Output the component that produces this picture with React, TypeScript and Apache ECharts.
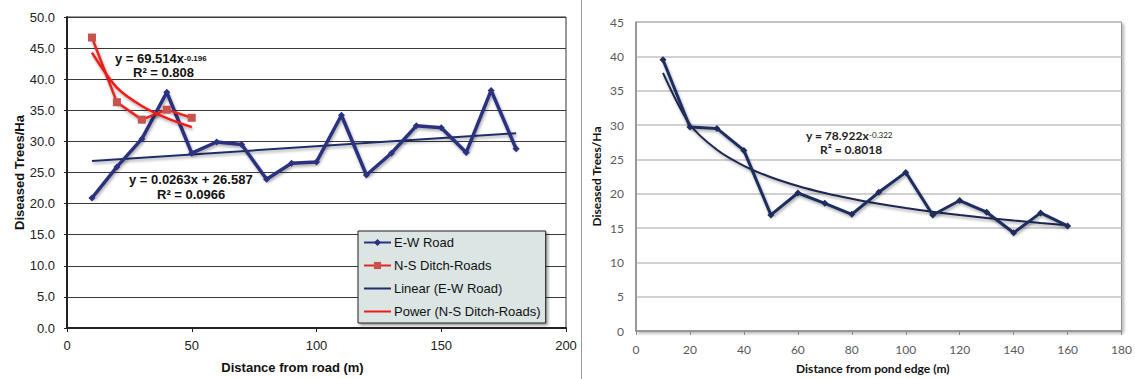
import React, { useEffect, useRef } from "react";
import * as echarts from "echarts";

// ---- Left chart data ----
const ewDistance = [10, 20, 30, 40, 50, 60, 70, 80, 90, 100, 110, 120, 130, 140, 150, 160, 170, 180];
const ewValues = [20.9, 25.9, 30.4, 37.9, 28.1, 29.9, 29.5, 23.9, 26.5, 26.7, 34.2, 24.6, 28.1, 32.5, 32.2, 28.2, 38.2, 28.8];
const nsDistance = [10, 20, 30, 40, 50];
const nsValues = [46.7, 36.3, 33.5, 35.1, 33.8];
// trendline coefficients as printed on the chart
const linSlope = 0.0263;
const linIntercept = 26.587;
const nsPowA = 69.514;
const nsPowB = -0.196;
const leftYTicks = [0, 5, 10, 15, 20, 25, 30, 35, 40, 45, 50];
const leftXTicks = [0, 50, 100, 150, 200];

// ---- Right chart data ----
const pondDistance = [10, 20, 30, 40, 50, 60, 70, 80, 90, 100, 110, 120, 130, 140, 150, 160];
const pondValues = [39.5, 29.7, 29.5, 26.3, 16.9, 20.1, 18.6, 17.0, 20.2, 23.1, 16.9, 19.0, 17.3, 14.3, 17.2, 15.3];
const pondPowA = 78.922;
const pondPowB = -0.322;
const rightYTicks = [0, 5, 10, 15, 20, 25, 30, 35, 40, 45];
const rightXTicks = [0, 20, 40, 60, 80, 100, 120, 140, 160, 180];

const ARIAL = "'Liberation Sans', Arial, sans-serif";
const CALI = "Lato, 'Open Sans', sans-serif";

export default function App() {
  const ref = useRef<HTMLDivElement>(null);

  useEffect(() => {
    if (!ref.current) return;
    const chart = echarts.init(ref.current, undefined, { renderer: "svg" });

    const ewData = ewDistance.map((x, i) => [x, ewValues[i]]);
    const nsData = nsDistance.map((x, i) => [x, nsValues[i]]);
    const linX = [ewDistance[0], ewDistance[ewDistance.length - 1]];
    const linData = linX.map((x) => [x, linSlope * x + linIntercept]);
    const nsPowData = nsDistance.map((x) => [x, nsPowA * Math.pow(x, nsPowB)]);
    const pondData = pondDistance.map((x, i) => [x, pondValues[i]]);
    const pondPowData = pondDistance.map((x) => [x, pondPowA * Math.pow(x, pondPowB)]);

    const shadow = {
      shadowColor: "rgba(0,0,0,0.35)",
      shadowBlur: 3,
      shadowOffsetX: 1,
      shadowOffsetY: 2,
    };

    chart.setOption({
      animation: false,
      backgroundColor: "#ffffff",
      legend: {
        data: [
          { name: "E-W Road" },
          { name: "N-S Ditch-Roads" },
          { name: "Linear (E-W Road)", itemStyle: { opacity: 0 } },
          { name: "Power (N-S Ditch-Roads)", itemStyle: { opacity: 0 } },
        ],
        orient: "vertical",
        left: 358,
        top: 231,
        padding: [5, 5, 5, 5],
        itemWidth: 27,
        itemHeight: 9,
        itemGap: 10,
        backgroundColor: "#dbe5e3",
        borderColor: "#222",
        borderWidth: 1,
        shadowColor: "rgba(0,0,0,0.4)",
        shadowBlur: 3,
        shadowOffsetX: 2,
        shadowOffsetY: 2,
        textStyle: { fontFamily: ARIAL, fontSize: 13, color: "#111", padding: [0, 0, 0, -2] },
      },
      grid: [
        { left: 67, top: 17, width: 499, height: 316, show: true, borderColor: "#333", borderWidth: 1, backgroundColor: "#fff" },
        {
          left: 636, top: 22, width: 486, height: 311, show: true, borderColor: "#8a8a8a", borderWidth: 1,
          backgroundColor: "#fff", shadowColor: "rgba(0,0,0,0.3)", shadowBlur: 3, shadowOffsetX: 2, shadowOffsetY: 2,
        },
      ],
      xAxis: [
        {
          gridIndex: 0, type: "value", min: leftXTicks[0], max: leftXTicks[leftXTicks.length - 1], interval: 50,
          axisLine: { show: true, onZero: false, lineStyle: { color: "#222", width: 2 } },
          axisTick: { show: true, length: 4, lineStyle: { color: "#222", width: 1 } },
          splitLine: { show: false },
          axisLabel: { fontFamily: ARIAL, fontSize: 13, color: "#222", margin: 11 },
          name: "Distance from road (m)", nameLocation: "middle", nameGap: 33,
          nameTextStyle: { fontFamily: ARIAL, fontSize: 13, fontWeight: "bold", color: "#111", padding: [0, 48, 0, 0] },
        },
        {
          gridIndex: 1, type: "value", min: rightXTicks[0], max: rightXTicks[rightXTicks.length - 1], interval: 20,
          axisLine: { show: true, onZero: false, lineStyle: { color: "#8a8a8a", width: 1.5 } },
          axisTick: { show: true, length: 4, lineStyle: { color: "#8a8a8a", width: 1 } },
          splitLine: { show: false },
          axisLabel: { fontFamily: CALI, fontSize: 12, color: "#595959", margin: 12 },
          name: "Distance from pond edge (m)", nameLocation: "middle", nameGap: 31,
          nameTextStyle: { fontFamily: CALI, fontSize: 12, fontWeight: "bold", color: "#111", padding: [0, 12, 0, 0] },
        },
      ],
      yAxis: [
        {
          gridIndex: 0, type: "value", min: leftYTicks[0], max: leftYTicks[leftYTicks.length - 1], interval: 5,
          axisLine: { show: true, onZero: false, lineStyle: { color: "#222", width: 2 } },
          axisTick: { show: true, length: 3, lineStyle: { color: "#222" } },
          splitLine: { show: true, lineStyle: { color: "#3a3a3a", width: 1 } },
          axisLabel: { fontFamily: ARIAL, fontSize: 13, color: "#222", margin: 12, formatter: (v: number) => v.toFixed(1) },
          name: "Diseased Trees/Ha", nameLocation: "middle", nameGap: 41, nameRotate: 90,
          nameTextStyle: { fontFamily: ARIAL, fontSize: 13, fontWeight: "bold", color: "#111" },
        },
        {
          gridIndex: 1, type: "value", min: rightYTicks[0], max: rightYTicks[rightYTicks.length - 1], interval: 5,
          axisLine: { show: true, onZero: false, lineStyle: { color: "#8a8a8a", width: 1.5 } },
          axisTick: { show: false },
          splitLine: { show: true, lineStyle: { color: "#c2c2c2", width: 1.5 } },
          axisLabel: { fontFamily: CALI, fontSize: 12, color: "#595959", margin: 12 },
          name: "Diseased Trees/Ha", nameLocation: "middle", nameGap: 34, nameRotate: 90,
          nameTextStyle: { fontFamily: CALI, fontSize: 12, fontWeight: "bold", color: "#111" },
        },
      ],
      series: [
        {
          name: "Linear (E-W Road)", type: "line", xAxisIndex: 0, yAxisIndex: 0, data: linData,
          showSymbol: false, color: "#1f2f6b",
          lineStyle: { color: "#1f2f6b", width: 2, ...shadow }, z: 3,
        },
        {
          name: "E-W Road", type: "line", xAxisIndex: 0, yAxisIndex: 0, data: ewData,
          symbol: "diamond", symbolSize: 7, color: "#2b3280",
          itemStyle: { color: "#2b3280" },
          lineStyle: { color: "#2b3280", width: 3.5, ...shadow }, z: 4,
        },
        {
          name: "N-S Ditch-Roads", type: "line", xAxisIndex: 0, yAxisIndex: 0, data: nsData,
          symbol: "rect", symbolSize: 8, color: "#e8261e",
          itemStyle: { color: "#c8524d" },
          lineStyle: { color: "#e8261e", width: 2.5, ...shadow }, z: 5,
        },
        {
          name: "Power (N-S Ditch-Roads)", type: "line", xAxisIndex: 0, yAxisIndex: 0, data: nsPowData,
          showSymbol: false, smooth: 0.3, color: "#f01a1a",
          lineStyle: { color: "#f01a1a", width: 2.5, ...shadow }, z: 6,
        },
        {
          name: "Pond edge", type: "line", xAxisIndex: 1, yAxisIndex: 1, data: pondData,
          symbol: "diamond", symbolSize: 7, color: "#1f2d5e",
          itemStyle: { color: "#1f2d5e" },
          lineStyle: { color: "#1f2d5e", width: 3, ...shadow }, z: 4,
        },
        {
          name: "Power (Pond edge)", type: "line", xAxisIndex: 1, yAxisIndex: 1, data: pondPowData,
          showSymbol: false, smooth: 0.3, color: "#1a2550",
          lineStyle: { color: "#1a2550", width: 2, ...shadow }, z: 3,
        },
      ],
      graphic: [
        { type: "line", shape: { x1: 581.5, y1: 0, x2: 581.5, y2: 379 }, style: { stroke: "#9a9a9a", lineWidth: 1 }, silent: true },
        {
          type: "text", left: 115, top: 52, z: 20,
          style: {
            text: "{b|y = 69.514x}{s|-0.196}",
            rich: {
              b: { fontFamily: ARIAL, fontSize: 13, fontWeight: "bold", fill: "#111", height: 15 },
              s: { fontFamily: ARIAL, fontSize: 8, fontWeight: "bold", fill: "#111", verticalAlign: "top", height: 15 },
            },
          },
        },
        {
          type: "text", left: 133, top: 66, z: 20,
          style: { text: "R² = 0.808", fontFamily: ARIAL, fontSize: 13, fontWeight: "bold", fill: "#111" },
        },
        {
          type: "text", left: 129, top: 173, z: 20,
          style: { text: "y = 0.0263x + 26.587", fontFamily: ARIAL, fontSize: 13, fontWeight: "bold", fill: "#111" },
        },
        {
          type: "text", left: 157, top: 188, z: 20,
          style: { text: "R² = 0.0966", fontFamily: ARIAL, fontSize: 13, fontWeight: "bold", fill: "#111" },
        },
        {
          type: "text", left: 806, top: 129, z: 20,
          style: {
            text: "{b|y = 78.922x}{s|-0.322}",
            rich: {
              b: { fontFamily: CALI, fontSize: 12, fontWeight: "bold", fill: "#222", height: 14 },
              s: { fontFamily: CALI, fontSize: 8, fill: "#222", verticalAlign: "top", height: 14 },
            },
          },
        },
        {
          type: "text", left: 820, top: 143, z: 20,
          style: { text: "R² = 0.8018", fontFamily: CALI, fontSize: 12, fontWeight: "bold", fill: "#222" },
        },
      ],
    });

    return () => chart.dispose();
  }, []);

  return (
    <div
      ref={ref}
      style={{ position: "fixed", left: 0, top: 0, width: 1135, height: 379, background: "#fff" }}
    />
  );
}
